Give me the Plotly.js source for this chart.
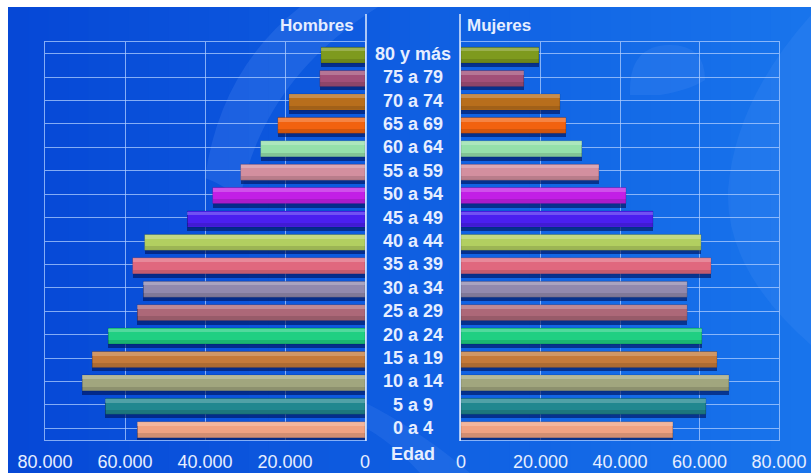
<!DOCTYPE html>
<html>
<head>
<meta charset="utf-8">
<script src="https://cdn.plot.ly/plotly-3.0.1.min.js"></script>
<style>html,body{margin:0;padding:0;background:#fff;}#chart{width:811px;height:473px;}</style>
</head>
<body>
<div id="chart"></div>
<script>
// ---- data (bottom to top) ----
const ageGroups = ['0 a 4','5 a 9','10 a 14','15 a 19','20 a 24','25 a 29','30 a 34','35 a 39','40 a 44','45 a 49','50 a 54','55 a 59','60 a 64','65 a 69','70 a 74','75 a 79','80 y más'];
const hombres = [56900, 64900, 70700, 68200, 64200, 56900, 55400, 58100, 55100, 44400, 38100, 31100, 26100, 21800, 19000, 11300, 11000];
const mujeres = [53300, 61600, 67400, 64400, 60600, 56900, 56900, 62900, 60400, 48300, 41500, 34700, 30400, 26400, 24900, 15800, 19600];
const barColors = ['#f0a282','#21878f','#a1a67e','#c57a3a','#1fcf82','#ad6878','#9289ad','#e0687e','#b2cf60','#4a1ff0','#c21fe6','#d38f9f','#95e0aa','#f2620f','#b86e1c','#a24f78','#7e9a1e'];
const tickVals = [0, 20000, 40000, 60000, 80000];
const axisTitle = 'Edad';
const leftTitle = 'Hombres';
const rightTitle = 'Mujeres';

// ---- layout helpers ----
const W = 811, H = 473;
const px = x => x / W;
const py = y => 1 - y / H;
const txt = '#e6eeff';
const gridC = 'rgba(175,205,255,0.75)';
const FONT = 'Liberation Sans, Arial, sans-serif';

function barTrace(vals, xa, ya, color, width, offset, extra) {
  return Object.assign({
    type: 'bar', orientation: 'h', x: vals, y: ageGroups,
    xaxis: xa, yaxis: ya, width: width, offset: offset,
    marker: {color: color, line: {width: 0}},
    hoverinfo: 'x+y', showlegend: false
  }, extra || {});
}

const W0 = 0.68, OFF = -0.40;
const traces = [];
[['x','y',hombres],['x2','y2',mujeres]].forEach(([xa, ya, vals]) => {
  traces.push(barTrace(vals, xa, ya, 'rgba(0,22,95,0.65)', W0, OFF - 0.17));
  traces.push(barTrace(vals, xa, ya, barColors, W0, OFF, {marker:{color:barColors, line:{width:0.8,color:'rgba(0,0,0,0.18)'}}}));
  traces.push(barTrace(vals, xa, ya, 'rgba(255,255,255,0.22)', 0.16, OFF + W0 - 0.18, {hoverinfo:'skip'}));
  traces.push(barTrace(vals, xa, ya, 'rgba(0,0,0,0.12)', 0.16, OFF + 0.02, {hoverinfo:'skip'}));
});

// ---- background decoration ----
const shapes = [];
const N = 40;
for (let i = 0; i < N; i++) {
  const t = i / (N - 1);
  const r = Math.round(6 + t * 18), g = Math.round(72 + t * 44), b = Math.round(214 + t * 22);
  shapes.push({type:'rect', xref:'paper', yref:'paper', layer:'below',
    x0: px(8 + (W - 8) * i / N), x1: px(8 + (W - 8) * (i + 1) / N) + 0.002,
    y0: 0, y1: py(7), line:{width:0}, fillcolor:`rgb(${r},${g},${b})`});
}
function pathP(pts) {
  return pts.map(s => s.replace(/(-?[\d.]+),(-?[\d.]+)/g, (m, a, c) => px(+a).toFixed(4) + ',' + py(+c).toFixed(4))).join(' ');
}
shapes.push({type:'path', xref:'paper', yref:'paper', layer:'below', line:{width:0},
  fillcolor:'rgba(120,170,255,0.16)',
  path: pathP(['M 300,7','L 378,7','Q 262,80 240,200','Q 225,185 205,178','Q 220,70 300,7','Z'])});
shapes.push({type:'path', xref:'paper', yref:'paper', layer:'below', line:{width:0},
  fillcolor:'rgba(120,170,255,0.12)',
  path: pathP(['M 630,95','Q 628,45 670,45','Q 705,45 705,80','Q 690,90 660,95','Z'])});
shapes.push({type:'path', xref:'paper', yref:'paper', layer:'below', line:{width:0},
  fillcolor:'rgba(120,170,255,0.11)',
  path: pathP(['M 811,15','Q 735,100 728,190','Q 725,270 811,345','Z'])});
shapes.push({type:'path', xref:'paper', yref:'paper', layer:'below', line:{width:0},
  fillcolor:'rgba(120,170,255,0.12)',
  path: pathP(['M 360,400','Q 420,430 470,473','L 420,473','Q 390,440 360,425','Z'])});
[366, 460].forEach(x => shapes.push({type:'line', xref:'paper', yref:'paper', layer:'above',
  x0:px(x), x1:px(x), y0:py(14), y1:py(441), line:{color:'rgba(235,242,255,0.95)', width:1.5}}));

// ---- annotations ----
const annotations = ageGroups.map(a => ({
  text: '<b>' + a + '</b>', xref:'paper', yref:'y', x: px(413), y: a, xanchor:'center', yanchor:'middle',
  showarrow:false, font:{family:FONT, size:18, color:txt}
}));
annotations.push({text:'<b>' + axisTitle + '</b>', xref:'paper', yref:'paper', x:px(413), y:py(454), xanchor:'center', yanchor:'middle', showarrow:false, font:{family:FONT, size:18, color:txt}});
annotations.push({text:'<b>' + leftTitle + '</b>', xref:'paper', yref:'paper', x:px(356), y:py(26), xanchor:'right', yanchor:'middle', showarrow:false, font:{family:FONT, size:17, color:txt}});
annotations.push({text:'<b>' + rightTitle + '</b>', xref:'paper', yref:'paper', x:px(465), y:py(26), xanchor:'left', yanchor:'middle', showarrow:false, font:{family:FONT, size:17, color:txt}});

const xCommon = {
  tickvals: tickVals, tickformat: ',.0f', showgrid: true, gridcolor: gridC, gridwidth: 1,
  zeroline: false, showline: true, mirror: true, linecolor: gridC, linewidth: 1,
  ticks: '', ticklabelstandoff: 5, tickfont: {family: FONT, size: 18, color: txt}, fixedrange: true
};
const yCommon = {
  type: 'category', categoryarray: ageGroups, range: [-0.5, 16.5],
  domain: [1 - 440 / H, 1 - 42 / H], showgrid: true, gridcolor: gridC, gridwidth: 1,
  showticklabels: false, ticks: '', zeroline: false, showline: true, mirror: true,
  linecolor: gridC, fixedrange: true
};

const layout = {
  width: W, height: H, margin: {l:0, r:0, t:0, b:0},
  paper_bgcolor: '#ffffff', plot_bgcolor: 'rgba(0,0,0,0)',
  separators: ',.', barmode: 'overlay', bargap: 0,
  font: {family: FONT, color: txt},
  xaxis: Object.assign({}, xCommon, {domain: [px(45), px(365)], range: [80000, 0], anchor: 'y'}),
  xaxis2: Object.assign({}, xCommon, {domain: [px(461), px(779)], range: [0, 80000], anchor: 'y2'}),
  yaxis: Object.assign({}, yCommon, {anchor: 'x'}),
  yaxis2: Object.assign({}, yCommon, {anchor: 'x2', matches: 'y'}),
  shapes: shapes, annotations: annotations, showlegend: false
};

Plotly.newPlot('chart', traces, layout, {displayModeBar: false, staticPlot: true});
</script>
</body>
</html>
